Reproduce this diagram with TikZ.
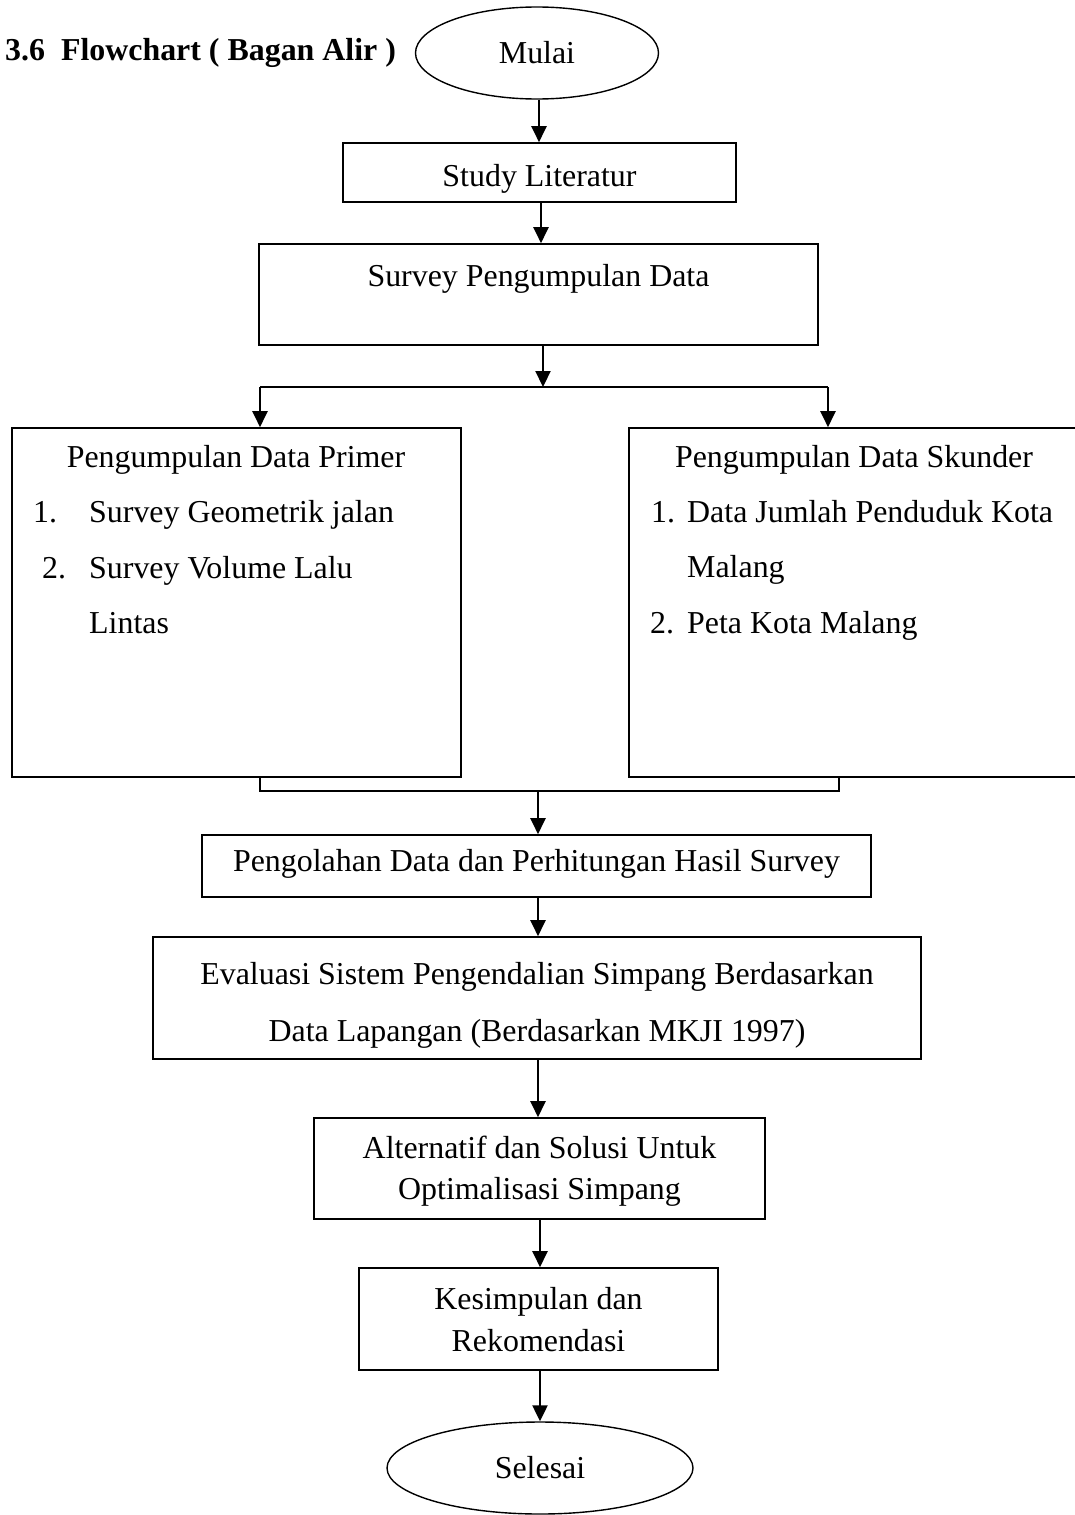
\documentclass[tikz,border=0pt]{standalone}
\usepackage{fontspec}
\setmainfont{Liberation Serif}
\usetikzlibrary{shapes.geometric,arrows.meta}
\begin{document}
\begin{tikzpicture}[x=1pt,y=-1pt,
  every node/.style={font=\fontsize{31.9}{38}\selectfont},
  box/.style={draw, line width=1.6pt, rectangle, inner sep=0pt},
  term/.style={draw, line width=1.4pt, ellipse, inner sep=0pt},
  txt/.style={anchor=base, inner sep=0pt},
  txtl/.style={anchor=base west, inner sep=0pt},
  arr/.style={line width=2.2pt, -{Triangle[width=15pt,length=16pt]}},
  ln/.style={line width=2pt}]
\useasboundingbox (0,0) rectangle (1074,1515);

% title
\node[txtl, font=\bfseries\fontsize{31.9}{38}\selectfont] (title) at (5,60) {3.6\ \ Flowchart ( Bagan Alir )};

% terminals
\node[term, minimum width=243pt, minimum height=92pt] (mulai) at (537,53) {Mulai};
\node[term, minimum width=306pt, minimum height=92pt] (selesai) at (540,1468) {Selesai};

% boxes
\node[box, minimum width=393pt, minimum height=59pt] (study) at (539.5,172.5) {};
\node[txt] (studyt) at (539.5,186) {Study Literatur};

\node[box, minimum width=559pt, minimum height=101pt] (survey) at (538.5,294.5) {};
\node[txt] (surveyt) at (538.5,286) {Survey Pengumpulan Data};

\node[box, minimum width=449pt, minimum height=349pt] (primer) at (236.5,602.5) {};
\node[txt] (primert) at (236,467) {Pengumpulan Data Primer};
\node[txtl] (p1n) at (33,522) {1.};
\node[txtl] (p1t) at (89,522) {Survey Geometrik jalan};
\node[txtl] (p2n) at (42,578) {2.};
\node[txtl] (p2t) at (89,578) {Survey Volume Lalu};
\node[txtl] (p2c) at (89,633) {Lintas};

\node[box, minimum width=456pt, minimum height=349pt] (skunder) at (857,602.5) {};
\node[txt] (skundert) at (854,467) {Pengumpulan Data Skunder};
\node[txtl] (s1n) at (651,522) {1.};
\node[txtl] (s1t) at (687,522) {Data Jumlah Penduduk Kota};
\node[txtl] (s1c) at (687,577) {Malang};
\node[txtl] (s2n) at (650,633) {2.};
\node[txtl] (s2t) at (687,633) {Peta Kota Malang};

\node[box, minimum width=669pt, minimum height=62pt] (olah) at (536.5,866) {};
\node[txt] (olaht) at (536.5,871) {Pengolahan Data dan Perhitungan Hasil Survey};

\node[box, minimum width=768pt, minimum height=122pt] (eval) at (537,998) {};
\node[txt] (evalt1) at (537,984) {Evaluasi Sistem Pengendalian Simpang Berdasarkan};
\node[txt] (evalt2) at (537,1041) {Data Lapangan (Berdasarkan MKJI 1997)};

\node[box, minimum width=451pt, minimum height=101pt] (alt) at (539.5,1168.5) {};
\node[txt] (altt1) at (539.5,1158) {Alternatif dan Solusi Untuk};
\node[txt] (altt2) at (539.5,1199) {Optimalisasi Simpang};

\node[box, minimum width=359pt, minimum height=102pt] (kes) at (538.5,1319) {};
\node[txt] (kest1) at (538.5,1309) {Kesimpulan dan};
\node[txt] (kest2) at (538.5,1351) {Rekomendasi};

% connectors
\coordinate (c1) at (539,0);
\draw[arr] (mulai.south -| c1) -- (study.north -| c1);
\coordinate (c2) at (541,0);
\draw[arr] (study.south -| c2) -- (survey.north -| c2);

\coordinate (sp) at (543,387);
\coordinate (spL) at (260,387);
\coordinate (spR) at (828,387);
\draw[arr] (survey.south -| sp) -- (sp);
\draw[ln] (spL) -- (spR);
\draw[arr] (spL) -- (spL |- primer.north);
\draw[arr] (spR) -- (spR |- skunder.north);

\coordinate (mgL) at (260,791);
\coordinate (mgR) at (839,791);
\coordinate (mg) at (538,791);
\draw[ln] (primer.south -| mgL) -- (mgL) -- (mgR) -- (skunder.south -| mgR);
\draw[arr] (mg) -- (mg |- olah.north);

\coordinate (c3) at (538,0);
\draw[arr] (olah.south -| c3) -- (eval.north -| c3);
\draw[arr] (eval.south -| c3) -- (alt.north -| c3);
\coordinate (c4) at (540,0);
\draw[arr] (alt.south -| c4) -- (kes.north -| c4);
\draw[arr] (kes.south -| c4) -- (selesai.north -| c4);
\end{tikzpicture}
\end{document}
